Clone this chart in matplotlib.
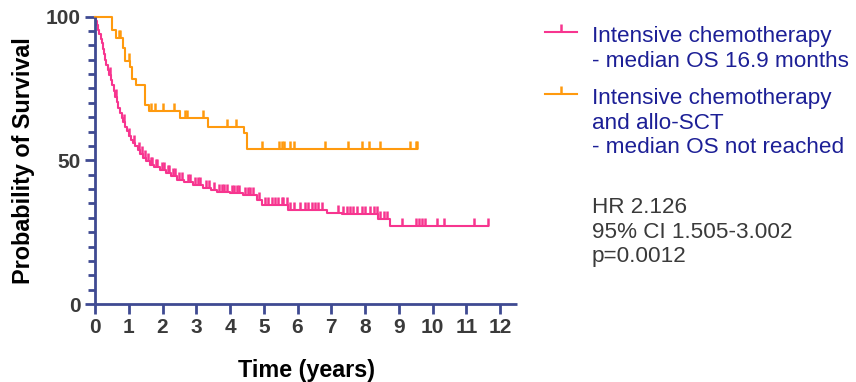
import numpy as np
import matplotlib
matplotlib.use("Agg")
from matplotlib import pyplot as plt
from matplotlib.lines import Line2D

plt.rcParams["font.family"] = ["Liberation Sans", "DejaVu Sans"]

# Intensive chemotherapy: drop times (years) and survival (%) after each drop
chemo_t = [0, 0.03, 0.06, 0.10, 0.13, 0.17, 0.20, 0.24, 0.27, 0.30, 0.34, 0.38,
           0.42, 0.46, 0.50, 0.55, 0.59, 0.64, 0.69, 0.74, 0.79, 0.84, 0.89, 0.95,
           1.00, 1.06, 1.12, 1.19, 1.26, 1.34, 1.43, 1.52, 1.62, 1.75, 1.93, 2.10,
           2.25, 2.42, 2.65, 2.91, 3.21, 3.45, 3.61, 4.00, 4.39, 4.79, 4.94, 5.73,
           6.86, 7.31, 8.39, 8.74]
chemo_s = [100, 98.5, 97.0, 95.3, 93.8, 92.3, 90.7, 88.8, 86.9, 84.9, 83.2, 81.4,
           79.6, 77.9, 76.3, 74.2, 72.1, 70.2, 68.2, 66.3, 64.8, 63.2, 61.7, 60.2,
           58.6, 57.0, 55.9, 54.8, 53.6, 52.3, 50.7, 49.6, 48.4, 47.6, 46.6, 45.5,
           44.5, 43.2, 42.3, 41.5, 40.3, 39.6, 38.9, 38.5, 38.0, 36.2, 34.4, 32.7,
           31.8, 31.2, 29.5, 27.1]
chemo_end = 11.65
chemo_cens = [0.45, 0.62, 0.85, 1.02, 1.15, 1.30, 1.38, 1.47, 1.56, 1.66, 1.70,
              1.80, 1.85, 1.98, 2.03, 2.15, 2.20, 2.30, 2.36, 2.50, 2.58, 2.75,
              2.82, 2.95, 3.05, 3.12, 3.30, 3.38, 3.52, 3.66, 3.75, 3.82, 3.90,
              4.05, 4.12, 4.20, 4.28, 4.45, 4.52, 4.60, 4.68, 4.85, 5.04, 5.13,
              5.24, 5.33, 5.43, 5.53, 5.58, 5.68, 5.78, 5.88, 6.07, 6.22, 6.32,
              6.42, 6.52, 6.62, 6.72, 7.21, 7.36, 7.46, 7.56, 7.65, 7.75, 7.90,
              8.00, 8.15, 8.25, 8.35, 8.45, 8.55, 8.65, 9.09, 9.50, 9.60, 9.68,
              9.78, 10.14, 10.34, 11.23, 11.65]

# Intensive chemotherapy and allo-SCT
allo_t = [0, 0.49, 0.62, 0.84, 0.89, 1.04, 1.09, 1.21, 1.47, 1.61, 2.52, 3.36,
          4.42, 4.49]
allo_s = [100, 95.3, 92.4, 88.9, 84.6, 82.5, 78.3, 76.2, 69.2, 67.2, 64.6, 61.5,
          59.4, 53.9]
allo_end = 9.55
allo_cens = [0.70, 0.74, 1.00, 1.66, 1.77, 2.01, 2.34, 2.67, 2.72, 3.21, 3.90,
             4.18, 4.96, 5.46, 5.53, 5.60, 5.78, 5.90, 6.80, 7.50, 7.92, 8.12,
             8.44, 9.33, 9.51, 9.55]

legend_labels = ["Intensive chemotherapy\n- median OS 16.9 months",
                 "Intensive chemotherapy\nand allo-SCT\n- median OS not reached"]
stats_text = "HR 2.126\n95% CI 1.505-3.002\np=0.0012"

pink = "#F7358F"
orange = "#FF9A0E"
axis_col = "#3F4A92"
label_col = "#3A3A3A"
legend_col = "#1C1F96"


def km_curve(ax, t, s, end, cens, color):
    t_all = np.append(t, end)
    s_all = np.append(s, s[-1])
    ax.step(t_all, s_all, where="post", color=color, lw=1.5, clip_on=False)
    idx = np.searchsorted(t, cens, side="right") - 1
    ax.plot(cens, np.asarray(s)[idx], ls="none", marker=2, ms=6,
            mew=1.8, color=color, clip_on=False)


fig = plt.figure(figsize=(8.56, 3.82), dpi=100)
ax = fig.add_axes([95 / 856, 1 - 304 / 382, 422 / 856, 287.5 / 382])

km_curve(ax, chemo_t, chemo_s, chemo_end, chemo_cens, pink)
km_curve(ax, allo_t, allo_s, allo_end, allo_cens, orange)

ax.set_xlim(0, 12.5)
ax.set_ylim(0, 100)
ax.set_xticks(range(0, 13))
ax.set_yticks([0, 50, 100])
ax.set_yticks(range(0, 101, 5), minor=True)
ax.spines[["top", "right"]].set_visible(False)
for sp in ("left", "bottom"):
    ax.spines[sp].set_color(axis_col)
    ax.spines[sp].set_linewidth(2)
    ax.spines[sp].set_capstyle("butt")
    ax.spines[sp].set_zorder(3)
ax.tick_params(axis="both", which="major", length=7, width=2, color=axis_col,
               labelsize=15, labelcolor=label_col, pad=3)
ax.tick_params(axis="y", which="minor", length=5, width=2, color=axis_col)
for lab in ax.get_xticklabels() + ax.get_yticklabels():
    lab.set_fontweight("bold")
ax.set_xlabel("Time (years)", fontsize=16.8, fontweight="bold", labelpad=16)
ax.set_ylabel("Probability of Survival", fontsize=16.8, fontweight="bold",
              labelpad=8)
ax.patch.set_visible(False)

# legend drawn beside the plot, handle aligned with the first text line
for ytop, label, color in zip([32, 94], legend_labels, [pink, orange]):
    yf = 1 - ytop / 382
    fig.add_artist(Line2D([545 / 856, 577 / 856], [yf, yf], color=color, lw=1.5,
                          transform=fig.transFigure))
    fig.add_artist(Line2D([561 / 856], [yf], marker=2, ms=6, mew=1.8,
                          color=color, transform=fig.transFigure))
    fig.text(592 / 856, 1 - (ytop - 6) / 382, label, color=legend_col,
             fontsize=16.2, va="top", ha="left", linespacing=1.22)

fig.text(592 / 856, 1 - 197 / 382, stats_text, color=label_col, fontsize=16.2,
         va="top", ha="left", linespacing=1.22)

fig.savefig("out.png", dpi=100)
